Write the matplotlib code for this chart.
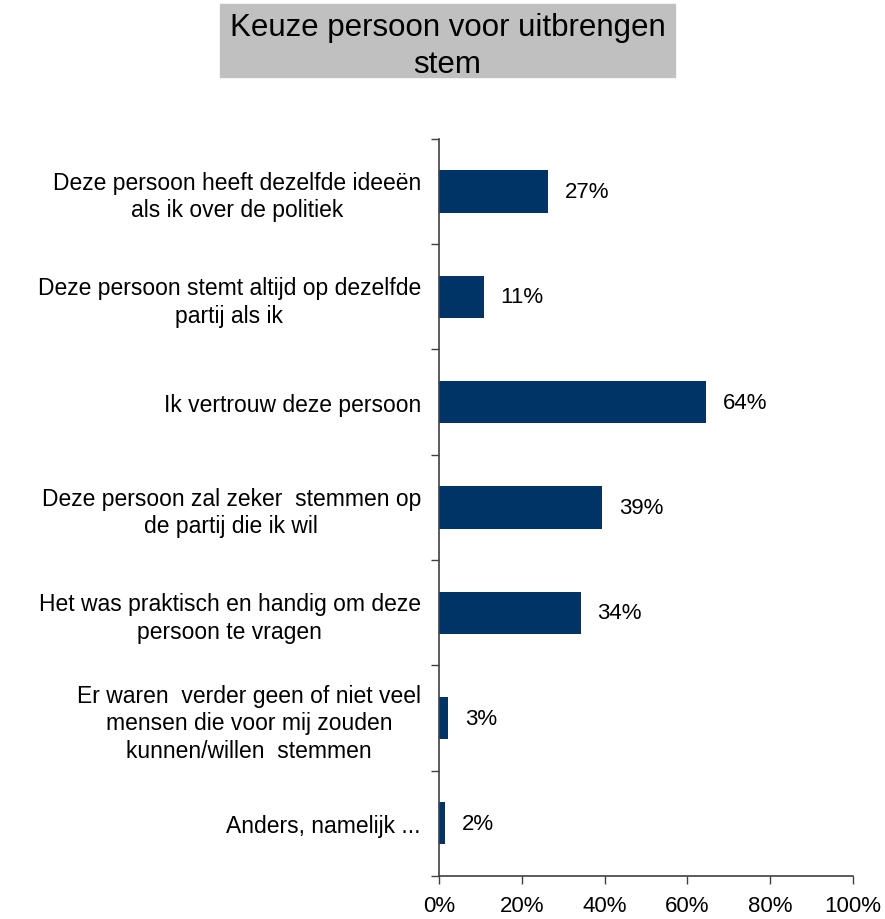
import matplotlib.pyplot as plt
import numpy as np

plt.rcParams['font.family'] = ['Liberation Sans', 'DejaVu Sans']

# ============== DATA ==============
categories = [
    "Deze persoon heeft dezelfde ideeën\nals ik over de politiek",
    "Deze persoon stemt altijd op dezelfde\npartij als ik",
    "Ik vertrouw deze persoon",
    "Deze persoon zal zeker  stemmen op\nde partij die ik wil",
    "Het was praktisch en handig om deze\npersoon te vragen",
    "Er waren  verder geen of niet veel\nmensen die voor mij zouden\nkunnen/willen  stemmen",
    "Anders, namelijk ...",
]
values = [26.4, 10.9, 64.6, 39.5, 34.2, 2.3, 1.5]
value_labels = ["27%", "11%", "64%", "39%", "34%", "3%", "2%"]
xticks = [0, 20, 40, 60, 80, 100]
xtick_labels = ["0%", "20%", "40%", "60%", "80%", "100%"]

BAR_COLOR = "#003366"
TITLE = "Keuze persoon voor uitbrengen\nstem"
FS = 16

fig = plt.figure(figsize=(8.85, 9.2), dpi=100)
ax = fig.add_axes([0.496, 0.0467, 0.4678, 0.8013])

y = np.arange(len(categories))
ax.barh(y, values, height=0.4, color=BAR_COLOR)
for yi, v, lab in zip(y, values, value_labels):
    ax.text(v + 4, yi, lab, va='center', ha='left', fontsize=FS)

ax.set_ylim(len(categories) - 0.5, -0.5)
ax.set_xlim(0, 100)

# category labels at centres, tick marks at the boundaries
ax.set_yticks(y)
ax.set_yticklabels(categories, fontsize=16.5, linespacing=1.25)
ax.tick_params(axis='y', which='major', length=0, pad=13)
for lbl in ax.get_yticklabels():
    lbl.set_multialignment('center')
ax.set_yticks(np.arange(-0.5, len(categories)), minor=True)
ax.tick_params(axis='y', which='minor', length=6, width=1, color='#404040')

ax.set_xticks(xticks)
ax.set_xticklabels(xtick_labels, fontsize=FS)
ax.tick_params(axis='x', length=6, width=1, color='#404040', pad=8)

for side in ['top', 'right']:
    ax.spines[side].set_visible(False)
for side in ['left', 'bottom']:
    ax.spines[side].set_color('#404040')
    ax.spines[side].set_linewidth(1.2)

# title in a grey box
fig.patches.append(plt.Rectangle((220 / 885, 1 - 78 / 920), 455 / 885, 73 / 920,
                                 transform=fig.transFigure, color='#C0C0C0', zorder=0))
fig.text(447.5 / 885, 1 - 46.5 / 920, TITLE, ha='center', va='center',
         fontsize=22.5, linespacing=1.3)

plt.savefig("out.png", dpi=100)
